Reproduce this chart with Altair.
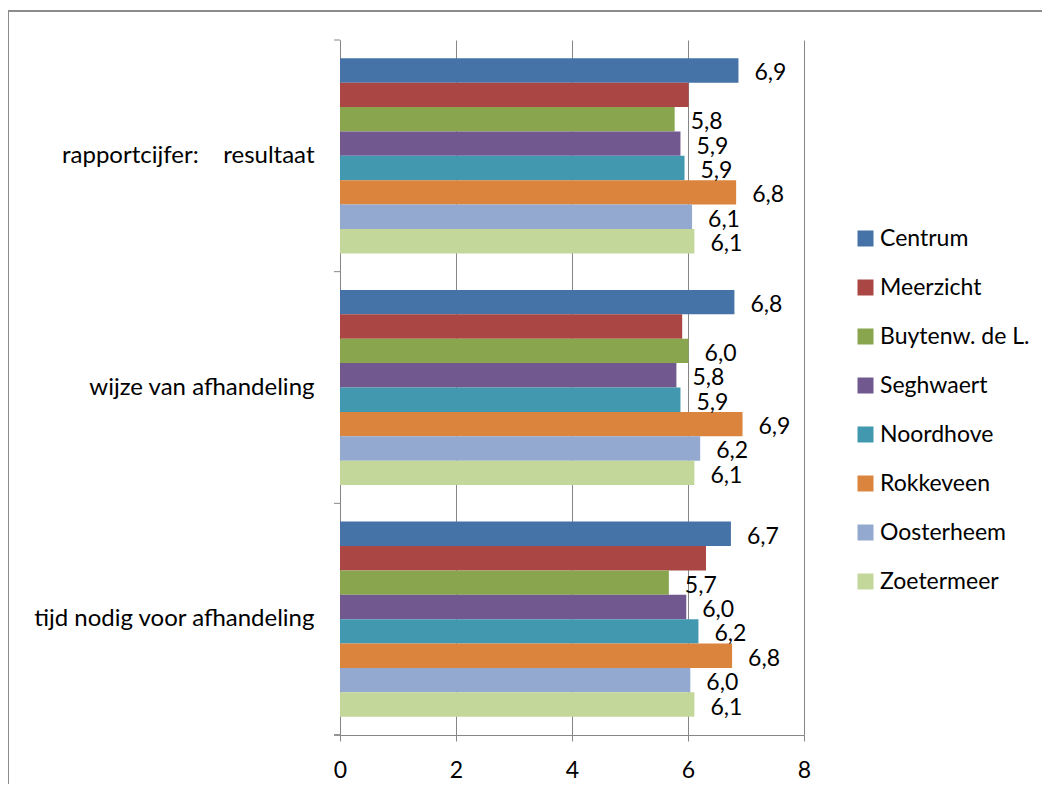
import altair as alt
import pandas as pd

categories = ["rapportcijfer:\u00a0\u00a0\u00a0\u00a0resultaat", "wijze van afhandeling", "tijd nodig voor afhandeling"]
series = ["Centrum", "Meerzicht", "Buytenw. de L.", "Seghwaert", "Noordhove", "Rokkeveen", "Oosterheem", "Zoetermeer"]
colors = ["#4572A7", "#AA4643", "#89A54E", "#71588F", "#4198AF", "#DB843D", "#93A9CF", "#C4D79B"]
values_resultaat = [6.87, 6.01, 5.77, 5.87, 5.94, 6.83, 6.07, 6.11]
values_wijze = [6.80, 5.90, 6.01, 5.80, 5.87, 6.94, 6.21, 6.11]
values_tijd = [6.74, 6.31, 5.67, 5.97, 6.18, 6.76, 6.04, 6.11]
x_ticks = [0, 2, 4, 6, 8]
unlabeled = ["Meerzicht"]

rows = []
for cat, vals in zip(categories, [values_resultaat, values_wijze, values_tijd]):
    for s, v in zip(series, vals):
        rows.append({"cat": cat, "series": s, "v": v})
df = pd.DataFrame(rows)
cat_df = pd.DataFrame({"cat": categories})

FONT = "Lato"
GRAY = "#868686"
W, H = 464, 695

x_axis = alt.Axis(values=x_ticks, format="d", grid=True, gridColor=GRAY, gridWidth=1,
                  domainColor=GRAY, domainWidth=1, tickColor=GRAY, tickSize=6, tickWidth=1,
                  labelFont=FONT, labelFontSize=23, labelColor="#000000", labelPadding=18,
                  labelFlush=False, title=None)

y_enc = alt.Y("cat:N", sort=categories, title=None,
              scale=alt.Scale(paddingInner=0, paddingOuter=0))
yoff = alt.YOffset("series:N", sort=series,
                   scale=alt.Scale(paddingInner=0, paddingOuter=0.75))
x_enc = alt.X("v:Q", title=None, axis=x_axis,
              scale=alt.Scale(domain=[0, 8], nice=False, zero=True))

bars = alt.Chart(df).mark_bar().encode(
    x=x_enc,
    y=y_enc,
    yOffset=yoff,
    color=alt.Color("series:N", sort=series,
                    scale=alt.Scale(domain=series, range=colors),
                    legend=alt.Legend(orient="none", legendX=514, legendY=187, title=None,
                                      symbolType="square", symbolSize=256, symbolStrokeWidth=0,
                                      labelFont=FONT, labelFontSize=23, labelColor="#000000",
                                      rowPadding=25, labelOffset=3, padding=0)),
)

labels = alt.Chart(df).transform_filter(
    ~alt.FieldOneOfPredicate(field="series", oneOf=unlabeled)
).transform_calculate(
    lab="replace(format(datum.v, '.1f'), '.', ',')"
).mark_text(align="left", baseline="middle", dx=16, dy=3, font=FONT, fontSize=23, color="#000000").encode(
    x=x_enc,
    y=y_enc,
    yOffset=yoff,
    text="lab:N",
)

yticks = alt.Chart(cat_df).mark_rule(color=GRAY, strokeWidth=1).encode(
    y=alt.Y("cat:N", sort=categories, bandPosition=0, title=None),
    x=alt.value(-6),
    x2=alt.value(0),
)
ytick_bottom = alt.Chart(cat_df).mark_rule(color=GRAY, strokeWidth=1).encode(
    y=alt.value(H), x=alt.value(-6), x2=alt.value(0),
)

frame = alt.Chart(cat_df).mark_rect(fillOpacity=0, stroke="#8c8c8c", strokeWidth=2).encode(
    x=alt.value(-332), x2=alt.value(W + 600),
    y=alt.value(-29), y2=alt.value(H + 300),
)

chart = alt.layer(frame, bars, labels, yticks, ytick_bottom).properties(
    width=W, height=H,
    autosize=alt.AutoSizeParams(type="none"),
    padding={"left": 332, "top": 32, "right": 238, "bottom": 49},
).configure_view(stroke=None).configure_axisY(
    ticks=False, grid=False, domainColor=GRAY, domainWidth=1,
    labelFont=FONT, labelFontSize=24, labelColor="#000000", labelPadding=26,
    labelLimit=400,
)

chart.save("out.html", embed_options={"renderer": "svg", "actions": False})
